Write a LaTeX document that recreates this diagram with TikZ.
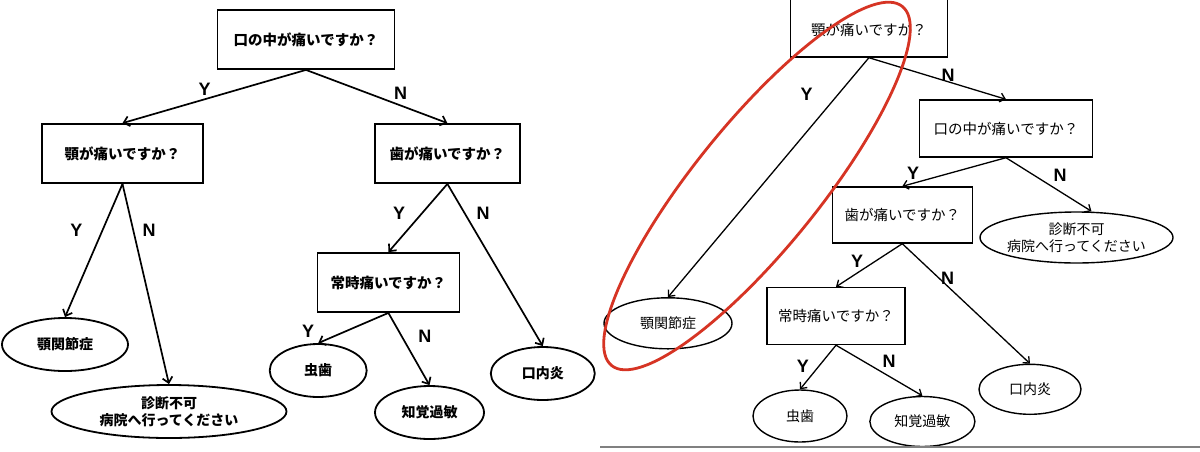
\documentclass[tikz,border=0pt]{standalone}
\usepackage{fontspec}
\setmainfont{Liberation Sans}
\newfontfamily\jp{Noto Sans CJK JP}
\usetikzlibrary{arrows.meta,shapes.geometric}
\begin{document}
\begin{tikzpicture}[x=1pt,y=-1pt,
  lbox/.style={draw, line width=1.8pt, inner sep=0pt, minimum height=59pt, font=\jp\bfseries\fontsize{14.5}{17}\selectfont},
  lleaf/.style={draw, ellipse, line width=1.8pt, inner sep=0pt, inner xsep=-14pt, minimum height=53pt, align=center, font=\jp\bfseries\fontsize{14}{17}\selectfont},
  rbox/.style={draw, line width=1.4pt, inner sep=0pt, font=\jp\fontsize{14.5}{17}\selectfont},
  rleaf/.style={draw, ellipse, line width=1.4pt, inner sep=0pt, inner xsep=-14pt, align=center, font=\jp\fontsize{14}{17}\selectfont},
  larr/.style={-{Straight Barb[length=5.5pt,width=10pt]}, line width=1.7pt},
  rarr/.style={-{Straight Barb[length=5pt,width=9pt]}, line width=1.3pt},
  yn/.style={inner sep=0pt, font=\bfseries\fontsize{18}{18}\selectfont}]
\useasboundingbox (0,0) rectangle (1200,451);
\fill[white] (0,0) rectangle (1200,451);
% ---------------- left diagram ----------------
\node[lbox, minimum width=177pt] (L1) at (306,39.5) {口の中が痛いですか？};
\node[lbox, minimum width=161pt] (L2) at (122.5,153.5) {顎が痛いですか？};
\node[lbox, minimum width=145pt] (L3) at (447.4,153.5) {歯が痛いですか？};
\node[lbox, minimum width=142pt] (L4) at (388.4,282.5) {常時痛いですか？};
\node[lleaf, minimum width=126pt] (La) at (65,344.5) {顎関節症};
\node[lleaf, minimum width=235pt] (Lb) at (169,411.5) {診断不可\\病院へ行ってください};
\node[lleaf, minimum width=97pt] (Lc) at (318.2,370.5) {虫歯};
\node[lleaf, minimum width=109pt] (Ld) at (429.5,412.5) {知覚過敏};
\node[lleaf, minimum width=104pt] (Le) at (542.8,373.5) {口内炎};
\draw[larr] (L1.south) -- (L2.north);
\draw[larr] (L1.south) -- (L3.north);
\draw[larr] (L2.south) -- (La.north);
\draw[larr] (L2.south) -- (Lb.north);
\draw[larr] (L3.south) -- (L4.north);
\draw[larr] (L3.south) -- (Le.north);
\draw[larr] (L4.south) -- (Lc.north);
\draw[larr] (L4.south) -- (Ld.north);
\node[yn] (ly1) at (204.7,89) {Y};
\node[yn] (ln1) at (400.7,93) {N};
\node[yn] (ly2) at (76.5,230) {Y};
\node[yn] (ln2) at (149,230) {N};
\node[yn] (ly3) at (399,213) {Y};
\node[yn] (ln3) at (483,213) {N};
\node[yn] (ly4) at (308,331) {Y};
\node[yn] (ln4) at (424.8,336) {N};
% ---------------- right diagram ----------------
\node[rbox, minimum width=157pt, text height=48.5pt, text depth=21.5pt] (R1) at (868.9,22) {顎が痛いですか？};
\node[rbox, minimum width=173pt, minimum height=57pt] (R2) at (1006,128.5) {口の中が痛いですか？};
\node[rbox, minimum width=140pt, minimum height=56pt] (R3) at (902.3,215) {歯が痛いですか？};
\node[rbox, minimum width=138pt, minimum height=57pt] (R4) at (836,316) {常時痛いですか？};
\node[rleaf, minimum width=128pt, minimum height=51pt] (Ra) at (668,323.3) {顎関節症};
\node[rleaf, minimum width=193pt, minimum height=51pt] (Rb) at (1076.5,237.5) {診断不可\\病院へ行ってください};
\node[rleaf, minimum width=94pt, minimum height=52pt] (Rc) at (800,416) {虫歯};
\node[rleaf, minimum width=105pt, minimum height=50pt] (Rd) at (922.4,421.5) {知覚過敏};
\node[rleaf, minimum width=102pt, minimum height=50pt] (Re) at (1030,389.3) {口内炎};
\draw[rarr] (R1.south) -- (R2.north);
\draw[rarr] (R1.south) -- (Ra.north);
\draw[rarr] (R2.south) -- (R3.north);
\draw[rarr] (R2.south) -- ([xshift=15pt]Rb.north);
\draw[rarr] (R3.south) -- (R4.north);
\draw[rarr] (R3.south) -- (Re.north);
\draw[rarr] (R4.south) -- (Rc.north);
\draw[rarr] (R4.south) -- (Rd.north);
\node[yn] (rn1) at (948,75) {N};
\node[yn] (ry1) at (806.7,94) {Y};
\node[yn] (ry2) at (913,173) {Y};
\node[yn] (rn2) at (1060,175) {N};
\node[yn] (ry3) at (857,261) {Y};
\node[yn] (rn3) at (947.5,278) {N};
\node[yn] (ry4) at (802.8,366.7) {Y};
\node[yn] (rn4) at (889,361.7) {N};
% highlight ellipse and bottom rule
\definecolor{hired}{RGB}{214,52,36}
\draw[hired, line width=2.8pt, rotate around={51:(757,186)}] (757,186) ellipse [x radius=231pt, y radius=62.5pt];
\draw[gray, line width=2.5pt] (600,447) -- (1200,447);
\end{tikzpicture}
\end{document}
